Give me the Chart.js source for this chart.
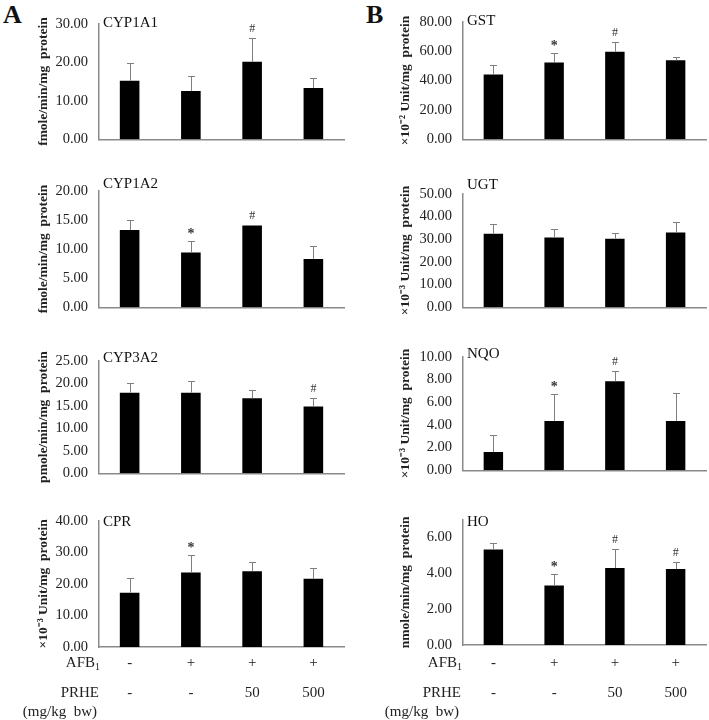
<!DOCTYPE html>
<html><head><meta charset="utf-8">
<script src="https://cdn.jsdelivr.net/npm/chart.js@4.4.1/dist/chart.umd.min.js"></script>
<style>
html,body{margin:0;padding:0;background:#fff;}
#wrap{position:relative;width:709px;height:720px;overflow:hidden;background:#fff;}
canvas{position:absolute;}
.letter{position:absolute;font:bold 26px "Liberation Serif",serif;color:#111;line-height:26px;}
</style></head><body>
<div id="wrap">
<div class="letter" style="left:3px;top:2px">A</div>
<div class="letter" style="left:366px;top:2px">B</div>
</div>
<script>
// ---- data ----
const groups = ['Control', 'AFB1', 'AFB1 + PRHE 50', 'AFB1 + PRHE 500'];
const afbRow = ['-', '+', '+', '+'];
const prheRow = ['-', '-', '50', '500'];

const cyp1a1Mean = [15.2, 12.55, 20.1, 13.3];
const cyp1a1Err  = [4.5, 3.95, 6.1, 2.6];
const cyp1a1Sig  = ['', '', '#', ''];

const cyp1a2Mean = [13.25, 9.4, 14.05, 8.3];
const cyp1a2Err  = [1.7, 2.05, 0.1, 2.15];
const cyp1a2Sig  = ['', '*', '#', ''];

const cyp3a2Mean = [17.9, 17.9, 16.65, 14.85];
const cyp3a2Err  = [2.1, 2.5, 1.95, 1.85];
const cyp3a2Sig  = ['', '', '', '#'];

const cprMean = [17.2, 23.6, 24.0, 21.6];
const cprErr  = [4.5, 5.6, 3.0, 3.4];
const cprSig  = ['', '*', '', ''];

const gstMean = [44.0, 52.2, 59.5, 53.7];
const gstErr  = [6.4, 6.3, 6.7, 2.4];
const gstSig  = ['', '*', '#', ''];

const ugtMean = [32.4, 30.7, 30.2, 32.9];
const ugtErr  = [4.2, 3.9, 2.6, 4.5];
const ugtSig  = ['', '', '', ''];

const nqoMean = [1.6, 4.35, 7.83, 4.35];
const nqoErr  = [1.5, 2.4, 0.92, 2.48];
const nqoSig  = ['', '*', '#', ''];

const hoMean = [5.33, 3.33, 4.3, 4.24];
const hoErr  = [0.37, 0.64, 1.05, 0.38];
const hoSig  = ['', '*', '#', '#'];

// ---- layout (positions / styles) ----
const cols = [
  {left: 0,   width: 346, yw: 99,  padR: 2, titlePad: 35, rowLabelDx: 1},
  {left: 355, width: 354, yw: 108, padR: 3, titlePad: 42, rowLabelDx: -1}
];
const panels = [
  {name:'CYP1A1', col:0, top:16,  bottom:149, max:30, step:10, yTitle:'fmole/min/mg  protein', mean:cyp1a1Mean, err:cyp1a1Err, sig:cyp1a1Sig, nameDy:3.5},
  {name:'CYP1A2', col:0, top:183, bottom:317, max:20, step:5,  yTitle:'fmole/min/mg  protein', mean:cyp1a2Mean, err:cyp1a2Err, sig:cyp1a2Sig, nameDy:-3},
  {name:'CYP3A2', col:0, top:353.5, bottom:483, max:25, step:5, yTitle:'pmole/min/mg  protein', mean:cyp3a2Mean, err:cyp3a2Err, sig:cyp3a2Sig, nameDy:1.5},
  {name:'CPR',    col:0, top:513, bottom:647, max:40, step:10, yTitle:'\u00d710\u207b\u00b3 Unit/mg  protein', mean:cprMean, err:cprErr, sig:cprSig, nameDy:5, last:true},
  {name:'GST',    col:1, top:14,  bottom:149, max:80, step:20, yTitle:'\u00d710\u207b\u00b2 Unit/mg  protein', mean:gstMean, err:gstErr, sig:gstSig, nameDy:3},
  {name:'UGT',    col:1, top:186, bottom:317, max:50, step:10, yTitle:'\u00d710\u207b\u00b3 Unit/mg  protein', mean:ugtMean, err:ugtErr, sig:ugtSig, nameDy:-5},
  {name:'NQO',    col:1, top:349, bottom:479.5, max:10, step:2, yTitle:'\u00d710\u207b\u00b3 Unit/mg  protein', mean:nqoMean, err:nqoErr, sig:nqoSig, nameDy:1},
  {name:'HO',     col:1, top:512, bottom:645, max:7, step:2,  yTitle:'nmole/min/mg  protein', mean:hoMean, err:hoErr, sig:hoSig, nameDy:6, last:true}
];

const SERIF = '"Liberation Serif", "Times New Roman", serif';
Chart.defaults.font.family = SERIF;

const decor = {
  id: 'decor',
  afterDatasetsDraw(chart, args, opts) {
    const p = opts.panel, c = cols[p.col];
    const ctx = chart.ctx, ys = chart.scales.y;
    const meta = chart.getDatasetMeta(0);
    const ca = chart.chartArea;
    ctx.save();
    // error bars (upper only)
    ctx.strokeStyle = '#7f7f7f';
    ctx.lineWidth = 1;
    meta.data.forEach((bar, i) => {
      const x = Math.round(bar.x) + 0.5;
      const y0 = ys.getPixelForValue(p.mean[i]);
      const y1 = Math.round(ys.getPixelForValue(p.mean[i] + p.err[i])) + 0.5;
      ctx.beginPath();
      ctx.moveTo(x, y0); ctx.lineTo(x, y1);
      ctx.moveTo(x - 3.5, y1); ctx.lineTo(x + 3.5, y1);
      ctx.stroke();
      if (p.sig[i]) {
        const star = p.sig[i] === '*';
        ctx.fillStyle = '#333';
        ctx.font = (star ? 'bold 14px ' : '12px ') + SERIF;
        ctx.textAlign = 'center';
        ctx.textBaseline = 'middle';
        ctx.fillText(p.sig[i], bar.x, y1 - (star ? 7 : 10));
      }
    });
    // panel name
    ctx.fillStyle = '#111';
    ctx.font = '15px ' + SERIF;
    ctx.textAlign = 'left';
    ctx.textBaseline = 'alphabetic';
    ctx.fillText(p.name, ca.left + 4, ca.top + p.nameDy);
    // treatment rows under last panels
    if (p.last) {
      const ct = p.canvasTop;
      const right = ca.left + c.rowLabelDx;
      ctx.fillStyle = '#222';
      ctx.textBaseline = 'middle';
      ctx.font = '15px ' + SERIF;
      const wA = ctx.measureText('AFB').width;
      ctx.font = '10px ' + SERIF;
      const w1 = ctx.measureText('1').width;
      ctx.textAlign = 'left';
      ctx.font = '15px ' + SERIF;
      ctx.fillText('AFB', right - wA - w1, 663 - ct);
      ctx.font = '10px ' + SERIF;
      ctx.fillText('1', right - w1, 667 - ct);
      ctx.font = '15px ' + SERIF;
      ctx.textAlign = 'right';
      ctx.fillText('PRHE', right - 1, 693 - ct);
      ctx.fillText('(mg/kg  bw)', right - 3, 712 - ct);
      ctx.textAlign = 'center';
      meta.data.forEach((bar, i) => {
        ctx.fillText(afbRow[i], bar.x, 663 - ct);
        ctx.fillText(prheRow[i], bar.x, 693 - ct);
      });
    }
    ctx.restore();
  }
};

const wrap = document.getElementById('wrap');
panels.forEach(p => {
  const c = cols[p.col];
  const padTop = 12;
  const canvasTop = Math.floor(p.top - padTop);
  const padT = p.top - canvasTop;
  const padB = p.last ? 720 - p.bottom : 10;
  const h = Math.round((p.bottom - p.top) + padT + padB);
  p.canvasTop = canvasTop;
  const cv = document.createElement('canvas');
  cv.width = c.width; cv.height = h;
  cv.style.left = c.left + 'px'; cv.style.top = canvasTop + 'px';
  cv.style.width = c.width + 'px'; cv.style.height = h + 'px';
  wrap.appendChild(cv);
  new Chart(cv, {
    type: 'bar',
    data: {
      labels: groups,
      datasets: [{
        data: p.mean,
        backgroundColor: '#000',
        borderColor: '#000',
        borderWidth: 0,
        barPercentage: 0.32,
        categoryPercentage: 1
      }]
    },
    options: {
      responsive: false,
      animation: false,
      devicePixelRatio: 1,
      layout: {padding: {top: padT, bottom: h - padT - (p.bottom - p.top), left: 0, right: c.padR}},
      plugins: {legend: {display: false}, tooltip: {enabled: false}, decor: {panel: p}},
      scales: {
        x: {
          grid: {display: false, drawTicks: false},
          ticks: {display: false},
          border: {display: true, color: '#8a8a8a', width: 1.5},
          afterFit: s => { s.height = 0; }
        },
        y: {
          min: 0, max: p.max,
          grid: {display: false, drawTicks: false},
          border: {display: true, color: '#8a8a8a', width: 1.5},
          ticks: {
            stepSize: p.step,
            padding: 11,
            color: '#222',
            font: {size: 14.5, family: SERIF},
            callback: v => Number(v).toFixed(2)
          },
          afterBuildTicks: s => { s.ticks = s.ticks.filter(t => Math.abs(t.value / p.step - Math.round(t.value / p.step)) < 1e-9); },
          title: {
            display: true,
            text: p.yTitle,
            color: '#222',
            font: {size: 13.5, weight: 'bold', family: SERIF},
            padding: {top: c.titlePad, bottom: 0}
          },
          afterFit: s => { s.width = c.yw; }
        }
      }
    },
    plugins: [decor]
  });
});
</script>
</body></html>
